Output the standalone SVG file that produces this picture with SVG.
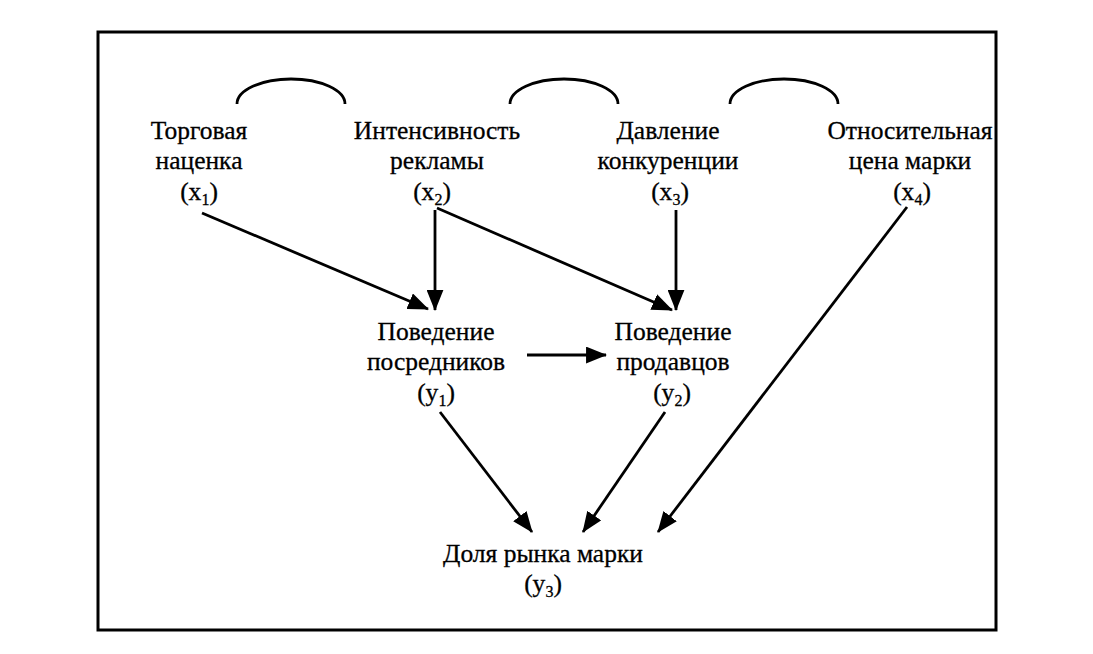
<svg xmlns="http://www.w3.org/2000/svg" width="1093" height="654" viewBox="0 0 1093 654">
<style>
text{font-family:"Liberation Serif","DejaVu Serif",serif;font-size:25.5px;fill:#000;text-anchor:middle;stroke:#000;stroke-width:0.3}
.sub{font-size:16px}
.ln{stroke:#000;stroke-width:2.8;fill:none}
</style>
<defs>
<marker id="ah" viewBox="0 0 20 16" refX="19" refY="8" markerWidth="21" markerHeight="17" markerUnits="userSpaceOnUse" orient="auto">
<path d="M0,0 L20,8 L0,16 Z" fill="#000"/>
</marker>
</defs>
<rect width="1093" height="654" fill="#fff"/>
<rect x="98" y="32" width="898" height="598" fill="none" stroke="#000" stroke-width="3"/>
<g id="arcs">
<path class="ln" d="M237,104 A54,25 0 0 1 345,104"/>
<path class="ln" d="M510,104 A54,25 0 0 1 618,104"/>
<path class="ln" d="M730,104 A54,25 0 0 1 838,104"/>
</g>
<g id="x1"><text x="199" y="139">Торговая</text><text x="199" y="169">наценка</text><text x="199" y="200">(x<tspan class="sub" dy="5">1</tspan><tspan dy="-5">)</tspan></text></g>
<g id="x2"><text x="437" y="139">Интенсивность</text><text x="437" y="169">рекламы</text><text x="432" y="200">(x<tspan class="sub" dy="5">2</tspan><tspan dy="-5">)</tspan></text></g>
<g id="x3"><text x="668" y="139">Давление</text><text x="668" y="169">конкуренции</text><text x="670" y="200">(x<tspan class="sub" dy="5">3</tspan><tspan dy="-5">)</tspan></text></g>
<g id="x4"><text x="910" y="139">Относительная</text><text x="910" y="169">цена марки</text><text x="912" y="200">(x<tspan class="sub" dy="5">4</tspan><tspan dy="-5">)</tspan></text></g>
<g id="y1"><text x="436" y="340">Поведение</text><text x="436" y="370">посредников</text><text x="436" y="401">(y<tspan class="sub" dy="5">1</tspan><tspan dy="-5">)</tspan></text></g>
<g id="y2"><text x="673" y="340">Поведение</text><text x="673" y="370">продавцов</text><text x="672" y="401">(y<tspan class="sub" dy="5">2</tspan><tspan dy="-5">)</tspan></text></g>
<g id="y3"><text x="543" y="562">Доля рынка марки</text><text x="543" y="592">(y<tspan class="sub" dy="5">3</tspan><tspan dy="-5">)</tspan></text></g>
<g id="connectors" class="ln" marker-end="url(#ah)">
<line x1="202" y1="213" x2="428" y2="309"/>
<line x1="435" y1="210" x2="435" y2="310"/>
<line x1="437" y1="208" x2="672" y2="310"/>
<line x1="676" y1="210" x2="676" y2="310"/>
<line x1="907" y1="207" x2="658" y2="532"/>
<line x1="440" y1="412" x2="532" y2="532"/>
<line x1="665" y1="412" x2="583" y2="532"/>
<line x1="527" y1="355" x2="606" y2="355"/>
</g>
</svg>
